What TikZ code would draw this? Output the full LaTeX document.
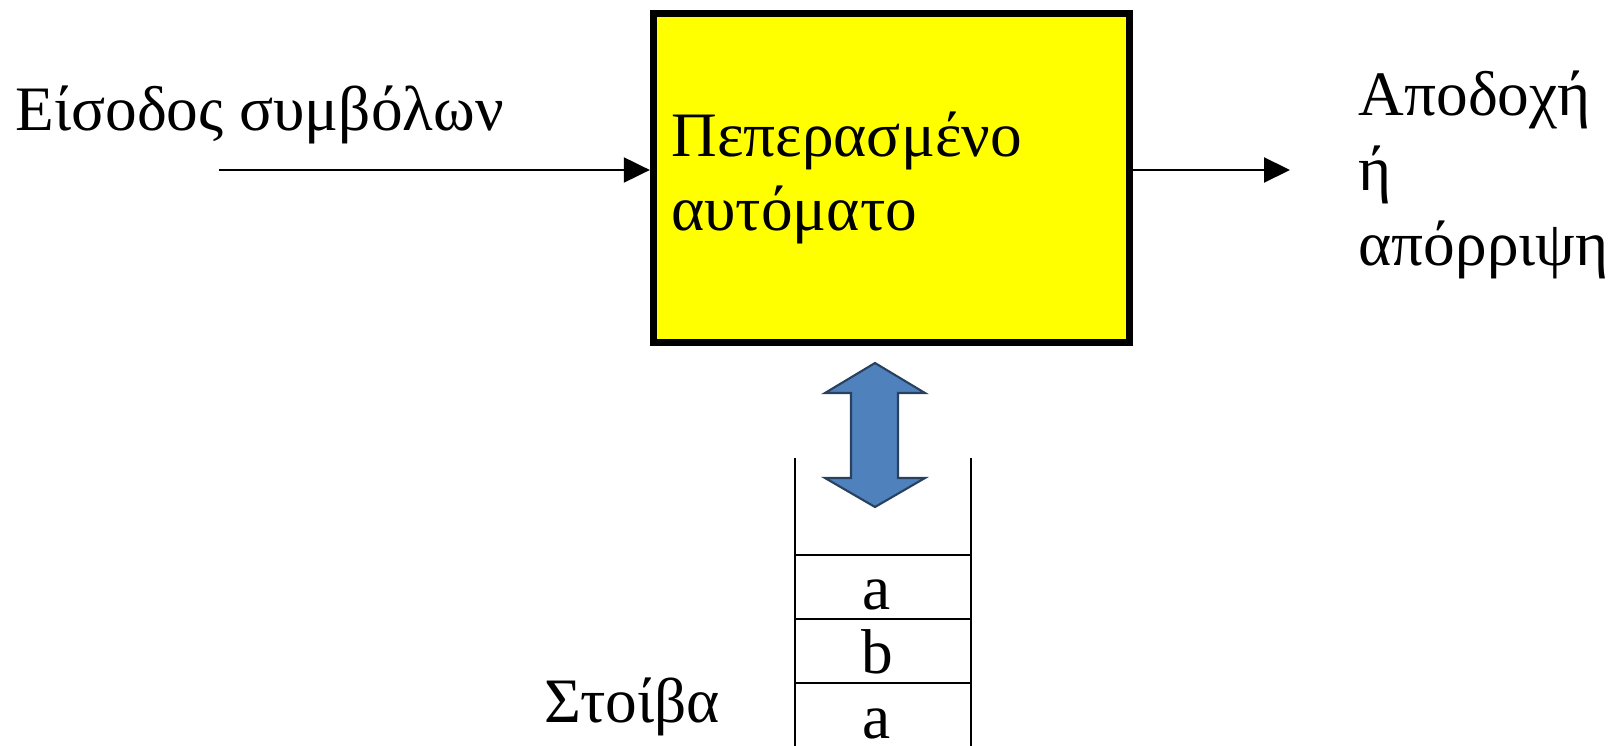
\documentclass[tikz,border=0pt]{standalone}
\usepackage{fontspec}
\setmainfont{Liberation Serif}
\definecolor{fsayellow}{RGB}{255,255,0}
\definecolor{fsablue}{RGB}{79,129,189}
\usetikzlibrary{arrows.meta,positioning}

\begin{document}
\begin{tikzpicture}[x=0.01cm, y=-0.01cm,
    txt/.style={font=\fontsize{18}{21.3}\selectfont, inner sep=0pt},
    flow/.style={line width=0.6pt, -{Triangle[length=0.26cm, width=0.25cm]}},
    cell/.style={line width=0.6pt}
  ]
    \useasboundingbox (0,0) rectangle (1618,746);

    % Finite automaton
    \node[draw, line width=2pt, fill=fsayellow,
          minimum width=4.76cm, minimum height=3.29cm,
          text width=4.4cm, align=left, inner sep=0pt,
          font=\fontsize{18}{20.8}\selectfont] (fsa) at (891.5,178)
      {Πεπερασμένο\\αυτόματο};

    % Input and output
    \node[txt, anchor=base west] (inp) at (15,131) {Είσοδος συμβόλων};
    \node[txt, anchor=north west, align=left] (res) at (1358,70)
      {Αποδοχή\\ή\\απόρριψη};
    \coordinate (src) at (219,170);
    \coordinate (dst) at (1290,170);
    \draw[flow] (src) -- (src -| fsa.west);
    \draw[flow] (dst -| fsa.east) -- (dst);

    % Stack
    \draw[cell] (795,458) -- (795,746);
    \draw[cell] (971,458) -- (971,746);
    \foreach \y in {555,619,683}
      \draw[cell] (795,\y) -- (971,\y);
    \node[txt, anchor=base] (top) at (877,610) {a};
    \node[txt, anchor=base] (mid) at (877,673) {b};
    \node[txt, anchor=base] (bot) at (877,738) {a};
    \node[txt, anchor=base west] (stk) at (544,722) {Στοίβα};

    % Push / pop arrow
    \draw[fsablue!50!black, line width=0.6pt, fill=fsablue]
      (875,363) -- (925,393) -- (898,393) -- (898,478) -- (925,478)
      -- (875,507) -- (825,478) -- (851,478) -- (851,393) -- (825,393) -- cycle;
  \end{tikzpicture}
\end{document}
